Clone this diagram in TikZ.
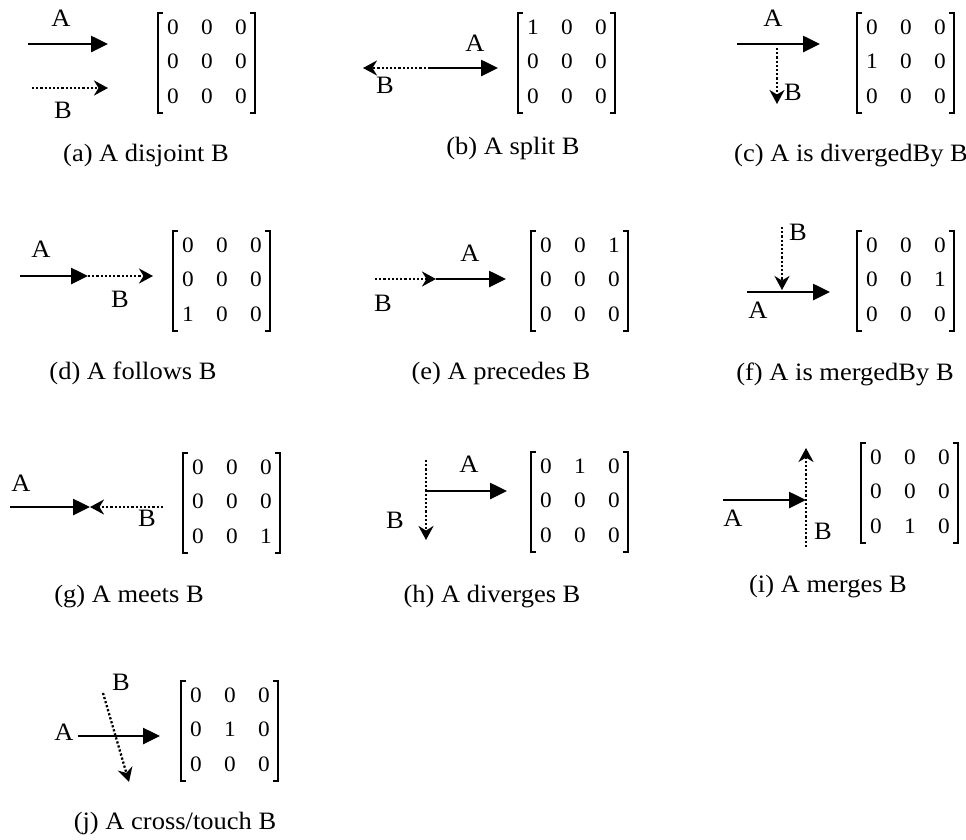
\documentclass[tikz,border=0pt]{standalone}
\usepackage{fontspec}
\setmainfont[FakeStretch=1.06]{Liberation Serif}
\usetikzlibrary{arrows.meta}
\tikzset{
  lbl/.style={inner sep=0pt, font=\fontsize{25}{30}\selectfont},
  captxt/.style={inner sep=0pt, font=\fontsize{25}{30}\selectfont},
  digit/.style={inner sep=0pt, font=\fontsize{22}{26}\selectfont},
  bracket/.style={line width=1.1pt},
  solidarr/.style={line width=2.6pt, -{Triangle[length=17pt,width=16pt]}},
  dotarr/.style={line width=2.3pt, dash pattern=on 2.2pt off 2pt, -{Stealth[length=14pt,width=15pt,inset=4.5pt]}},
}
\newcommand\relmat[4]{%
  \begin{scope}[shift={(#2,#3)}]
    \draw[bracket] (5,0) -- (0,0) -- (0,100) -- (5,100);
    \draw[bracket] (92,0) -- (97,0) -- (97,100) -- (92,100);
    \foreach \v [count=\k from 0] in {#4} {
      \pgfmathtruncatemacro\rr{int(\k/3)}
      \pgfmathtruncatemacro\cc{mod(\k,3)}
      \node[digit] (#1-\k) at ({15+34*\cc},{14+34.5*\rr}) {\v};
    }
  \end{scope}}
\begin{document}
\begin{tikzpicture}[x=1pt,y=-1pt]
\useasboundingbox (0,0) rectangle (966,839);
% (a)
\node[lbl] (aA) at (61,18) {A};
\coordinate (a1) at (28,44); \coordinate (a2) at (108,44);
\draw[solidarr] (a1) -- (a2);
\coordinate (a3) at (32,88); \coordinate (a4) at (108,88);
\draw[dotarr] (a3) -- (a4);
\node[lbl] (aB) at (63,110) {B};
\relmat{ma}{158}{13}{0,0,0,0,0,0,0,0,0}
\node[captxt] (ca) at (146,155) {(a) A disjoint B};
% (b)
\coordinate (b0) at (430,68); \coordinate (b1) at (363,68); \coordinate (b2) at (498,68);
\draw[dotarr] (b0) -- (b1);
\draw[solidarr] (b0) -- (b2);
\node[lbl] (bA) at (475,43) {A};
\node[lbl] (bB) at (385,85) {B};
\relmat{mb}{518}{13}{1,0,0,0,0,0,0,0,0}
\node[captxt] (cb) at (513,148) {(b) A split B};
% (c)
\node[lbl] (cA) at (773,18) {A};
\coordinate (c1) at (737,44); \coordinate (c2) at (820,44);
\draw[solidarr] (c1) -- (c2);
\coordinate (c3) at (777,48); \coordinate (c4) at (777,104);
\draw[dotarr] (c3) -- (c4);
\node[lbl] (cB) at (793,92) {B};
\relmat{mc}{857}{13}{0,0,0,1,0,0,0,0,0}
\node[captxt] (cc) at (851,156) {(c) A is divergedBy B};
% (d)
\node[lbl] (dA) at (41,249) {A};
\coordinate (d1) at (20,276); \coordinate (d2) at (88,276); \coordinate (d3) at (153,276);
\draw[solidarr] (d1) -- (d2);
\draw[dotarr] (d2) -- (d3);
\node[lbl] (dB) at (120,299) {B};
\relmat{md}{173}{231}{0,0,0,0,0,0,1,0,0}
\node[captxt] (cd) at (133,373) {(d) A follows B};
% (e)
\coordinate (e1) at (375,279); \coordinate (e2) at (436,279); \coordinate (e3) at (506,279);
\draw[dotarr] (e1) -- (e2);
\draw[solidarr] (e2) -- (e3);
\node[lbl] (eA) at (470,253) {A};
\node[lbl] (eB) at (383,303) {B};
\relmat{me}{531}{231}{0,0,1,0,0,0,0,0,0}
\node[captxt] (ce) at (501,373) {(e) A precedes B};
% (f)
\coordinate (f1) at (782,227); \coordinate (f2) at (782,290);
\draw[dotarr] (f1) -- (f2);
\coordinate (f3) at (747,292); \coordinate (f4) at (830,292);
\draw[solidarr] (f3) -- (f4);
\node[lbl] (fB) at (798,232) {B};
\node[lbl] (fA) at (758,310) {A};
\relmat{mf}{857}{231}{0,0,0,0,0,1,0,0,0}
\node[captxt] (cf) at (845,374) {(f) A is mergedBy B};
% (g)
\node[lbl] (gA) at (21,483) {A};
\coordinate (g1) at (10,507); \coordinate (g2) at (90,507); \coordinate (g3) at (163,507);
\draw[solidarr] (g1) -- (g2);
\draw[dotarr] (g3) -- (g2);
\node[lbl] (gB) at (147,518) {B};
\relmat{mg}{183}{453}{0,0,0,0,0,0,0,0,1}
\node[captxt] (cg) at (129,597) {(g) A meets B};
% (h)
\coordinate (h1) at (426,460); \coordinate (h2) at (426,540);
\draw[dotarr] (h1) -- (h2);
\coordinate (h3) at (426,491); \coordinate (h4) at (507,491);
\draw[solidarr] (h3) -- (h4);
\node[lbl] (hA) at (469,464) {A};
\node[lbl] (hB) at (395,520) {B};
\relmat{mh}{531}{452}{0,1,0,0,0,0,0,0,0}
\node[captxt] (ch) at (492,597) {(h) A diverges B};
% (i)
\coordinate (i1) at (723,500); \coordinate (i2) at (806,500);
\draw[solidarr] (i1) -- (i2);
\coordinate (i3) at (806,547); \coordinate (i4) at (806,448);
\draw[dotarr] (i3) -- (i4);
\node[lbl] (iA) at (733,518) {A};
\node[lbl] (iB) at (823,531) {B};
\relmat{mi}{861}{443}{0,0,0,0,0,0,0,1,0}
\node[captxt] (ci) at (828,587) {(i) A merges B};
% (j)
\node[lbl] (jA) at (64,732) {A};
\coordinate (j1) at (78,736); \coordinate (j2) at (160,736);
\draw[solidarr] (j1) -- (j2);
\coordinate (j3) at (103,693); \coordinate (j4) at (129,782);
\draw[dotarr] (j3) -- (j4);
\node[lbl] (jB) at (121,682) {B};
\relmat{mj}{181}{681}{0,0,0,0,1,0,0,0,0}
\node[captxt] (cj) at (175,823) {(j) A cross/touch B};
\end{tikzpicture}
\end{document}
